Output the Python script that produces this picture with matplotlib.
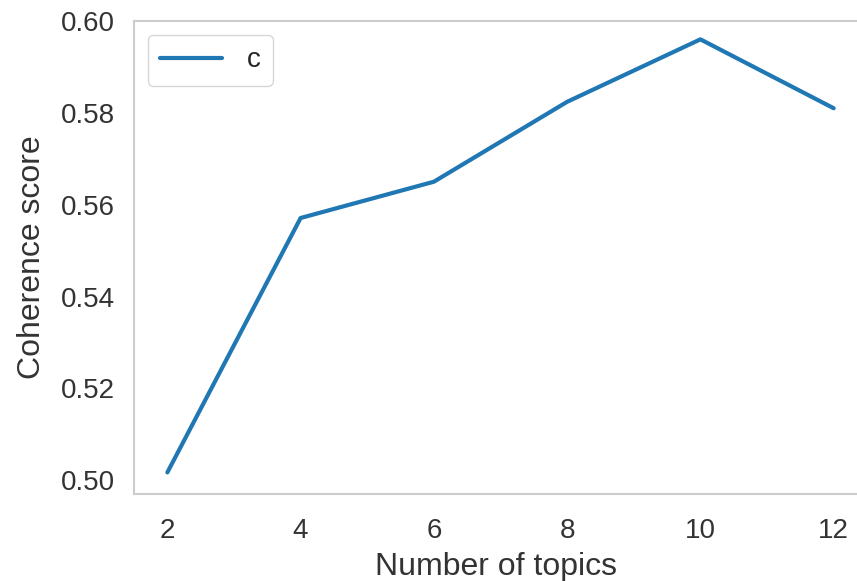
import matplotlib
matplotlib.use('Agg')
import matplotlib.pyplot as plt
import seaborn as sns

sns.set_style('whitegrid')
plt.rcParams['font.family'] = ['Liberation Sans', 'DejaVu Sans']
plt.rcParams['axes.grid'] = False

topics = [2, 4, 6, 8, 10, 12]
coherence = [0.5017, 0.5571, 0.5650, 0.5824, 0.5960, 0.5810]
series_label = 'c'

fig = plt.figure(figsize=(8.57, 5.81), dpi=100)
ax = fig.add_axes([0.1564, 0.1497, 0.8436, 0.8142])

ax.plot(topics, coherence, color='#1f77b4', linewidth=3, label=series_label)

ax.set_xlim(1.5, 12.35)
ax.set_ylim(0.497, 0.6)
ax.set_xticks(topics)
ax.set_yticks([0.50, 0.52, 0.54, 0.56, 0.58, 0.60])
ax.set_yticklabels(['0.50', '0.52', '0.54', '0.56', '0.58', '0.60'])

ax.tick_params(axis='both', labelsize=20, colors='#333333', length=0)
ax.tick_params(axis='x', pad=17)
ax.tick_params(axis='y', pad=14)
ax.set_xlabel('Number of topics', fontsize=23, color='#333333', labelpad=6)
ax.set_ylabel('Coherence score', fontsize=23, color='#333333', labelpad=10)

for side in ['top', 'left', 'bottom']:
    ax.spines[side].set_color('#cccccc')
    ax.spines[side].set_linewidth(1.5)
ax.spines['right'].set_visible(False)

ax.legend(loc='upper left', fontsize=20, handlelength=2.2, borderpad=0.45,
          handletextpad=0.9, frameon=True, edgecolor='#cccccc')

fig.savefig('out.png', dpi=100)
